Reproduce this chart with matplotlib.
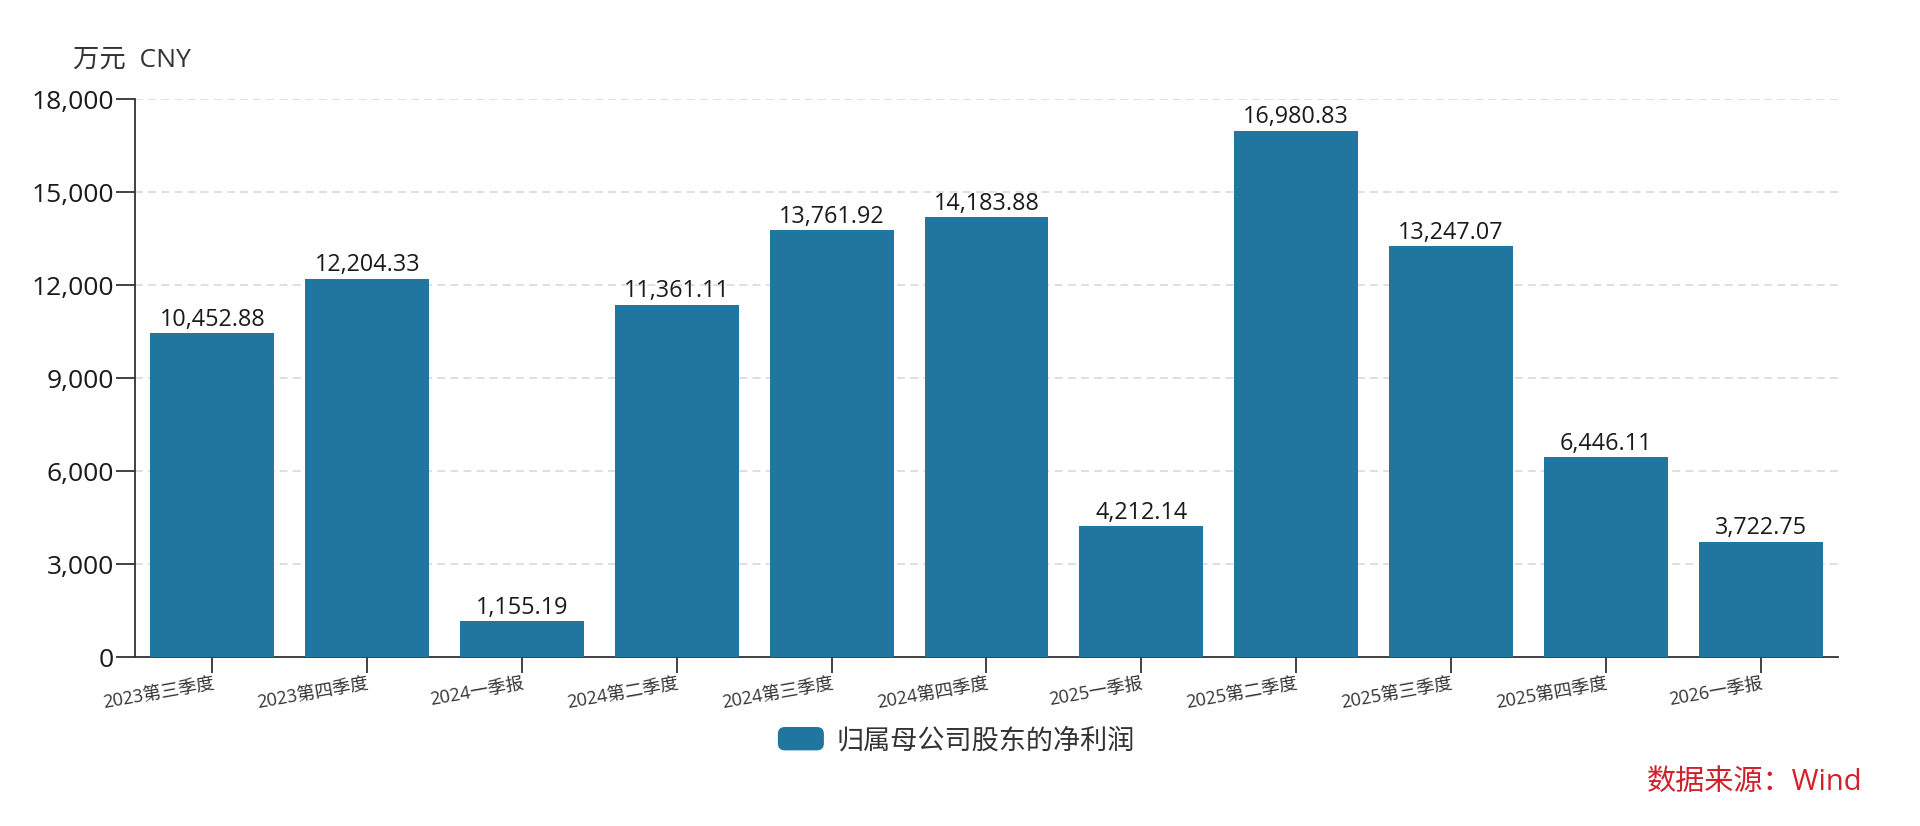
import matplotlib
matplotlib.use("Agg")
import matplotlib.pyplot as plt
from matplotlib.patches import FancyBboxPatch, Patch
from matplotlib.legend_handler import HandlerBase
from matplotlib.ticker import FuncFormatter

plt.rcParams['font.family'] = ['Open Sans', 'Noto Sans CJK SC', 'DejaVu Sans']

# === data ===
periods = ['2023第三季度', '2023第四季度', '2024一季报', '2024第二季度', '2024第三季度',
           '2024第四季度', '2025一季报', '2025第二季度', '2025第三季度', '2025第四季度',
           '2026一季报']
net_profit = [10452.88, 12204.33, 1155.19, 11361.11, 13761.92, 14183.88,
              4212.14, 16980.83, 13247.07, 6446.11, 3722.75]
y_ticks = [0, 3000, 6000, 9000, 12000, 15000, 18000]
series_name = '归属母公司股东的净利润'
unit_label = '万元  CNY'
source_label = '数据来源：Wind'

BAR = '#21769f'
DARK = '#333333'


class RoundBoxHandler(HandlerBase):
    def create_artists(self, legend, orig_handle, xdescent, ydescent,
                       width, height, fontsize, trans):
        p = FancyBboxPatch((-xdescent, -ydescent), width, height,
                           boxstyle='round,pad=0,rounding_size=5',
                           fc=orig_handle.get_facecolor(), ec='none',
                           transform=trans)
        return [p]


fig = plt.figure(figsize=(19.2, 8.26), dpi=100)
ax = fig.add_axes([0.0703, 0.2046, 0.887, 0.6755])

x = range(len(periods))
bars = ax.bar(x, net_profit, width=0.8, color=BAR, zorder=3)

for b, v in zip(bars, net_profit):
    ax.annotate(f'{v:,.2f}', (b.get_x() + b.get_width() / 2, v),
                xytext=(0, 1), textcoords='offset points',
                ha='center', va='bottom', fontsize=16.8, color='#1a1a1a', zorder=4)

ax.set_xlim(-0.5, len(periods) - 0.5)
ax.set_ylim(0, 18000)
ax.set_yticks(y_ticks)
ax.yaxis.set_major_formatter(FuncFormatter(lambda v, p: f'{v:,.0f}'))
ax.set_xticks(list(x))
ax.set_xticklabels(periods, rotation=10, ha='right', va='top',
                   rotation_mode='anchor', fontsize=13, color=DARK)

for yv in y_ticks[1:]:
    ax.axhline(yv, color='#d6d6d6', lw=1.1, ls=(0, (5.2, 3.4)), zorder=1)

for s in ['top', 'right']:
    ax.spines[s].set_visible(False)
for s in ['left', 'bottom']:
    ax.spines[s].set_color(DARK)
    ax.spines[s].set_linewidth(1.3)

ax.tick_params(axis='y', length=14, width=1.3, color=DARK, labelsize=19,
               labelcolor='#1a1a1a', pad=1)
ax.tick_params(axis='x', length=11.5, width=1.3, color=DARK, pad=1)

fig.text(73 / 1920, 1 - 60 / 826, unit_label, fontsize=19, color=DARK,
         ha='left', va='center')

leg = fig.legend([Patch(facecolor=BAR)], [series_name],
                 loc='center', bbox_to_anchor=(0.498, 1 - 741 / 826),
                 frameon=False, fontsize=19.5, handlelength=1.7,
                 handleheight=0.95, handletextpad=0.45,
                 handler_map={Patch: RoundBoxHandler()})
for t in leg.get_texts():
    t.set_color(DARK)

fig.text(1862 / 1920, 1 - 783 / 826, source_label, fontsize=21,
         color='#d0212a', ha='right', va='center')

fig.savefig('out.png', dpi=100, facecolor='white')
